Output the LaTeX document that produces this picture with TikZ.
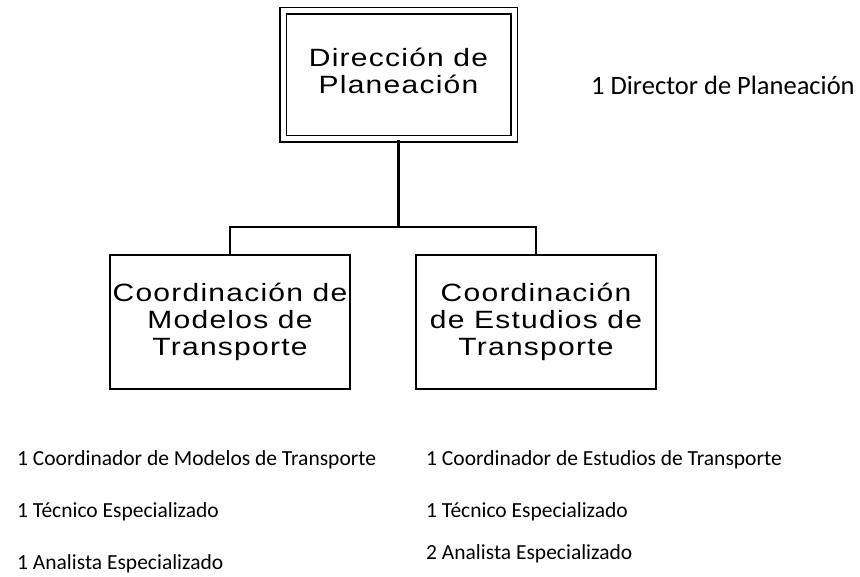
\documentclass[tikz,border=0pt]{standalone}
\usepackage{fontspec}
\setmainfont{Carlito}
\newfontfamily\cajafont{Liberation Sans}[FakeStretch=1.2, LetterSpace=5]
\usetikzlibrary{positioning}

\begin{document}
\begin{tikzpicture}[x=1pt,y=-1pt,
    unidad/.style={draw, line width=1.8pt, minimum width=240pt, minimum height=134pt,
      inner sep=0pt, align=center, font=\cajafont\fontsize{25}{27}\selectfont},
    direccion/.style={unidad, double, double distance=5pt, line width=1.5pt,
      minimum width=231pt, minimum height=128pt},
    conector/.style={line width=2.5pt},
    puesto/.style={anchor=west, inner sep=0pt, font=\fontsize{21.5}{25}\selectfont}]
  % Marco
  \useasboundingbox (0,0) rectangle (860,577);

  % Cajas del organigrama
  \node[direccion] (dir) at (398.5,75) {};
  \node[align=center, inner sep=0pt, font=\cajafont\fontsize{25}{27}\selectfont]
    (dirtexto) at ([yshift=4pt]dir.center) {Dirección de\\Planeación};
  \node[unidad] (modelos) at (230,322) {Coordinación de\\Modelos de\\Transporte};
  \node[unidad] (estudios) at (536,322) {Coordinación\\de Estudios de\\Transporte};

  % Conectores
  \coordinate (rama) at (dir.south |- 0,227);
  \draw[conector] (dir.south) -- (rama);
  \draw[conector] (modelos.north) |- (rama) -| (estudios.north);

  % Puestos
  \node[puesto, font=\fontsize{26.5}{30}\selectfont] (director) at (591,85) {1 Director de Planeación};
  \node[puesto] (p1) at (17,460) {1 Coordinador de Modelos de Transporte};
  \node[puesto] (p2) at (17,512) {1 Técnico Especializado};
  \node[puesto] (p3) at (17,564) {1 Analista Especializado};
  \node[puesto] (p4) at (426,460) {1 Coordinador de Estudios de Transporte};
  \node[puesto] (p5) at (426,512) {1 Técnico Especializado};
  \node[puesto] (p6) at (426,554) {2 Analista Especializado};
\end{tikzpicture}
\end{document}
